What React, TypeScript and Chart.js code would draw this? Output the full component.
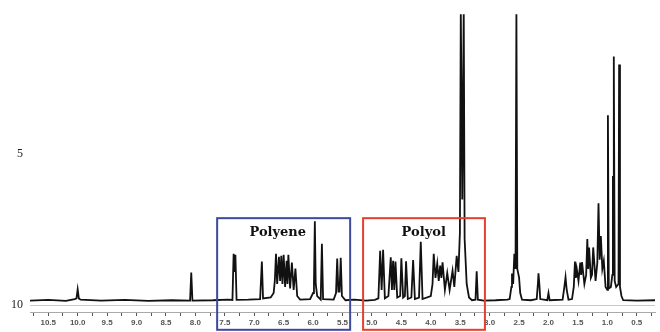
import React, { useEffect, useRef } from 'react';
import { Chart, registerables } from 'chart.js';

Chart.register(...registerables);

// Axis ranges (chemical shift ppm, reversed; intensity axis reversed)
const X_MIN = 0.19;
const X_MAX = 10.81;
const Y_TOP = 0.36;
const Y_BOTTOM = 10.23;

const xMajorTicks = [10.5, 10.0, 9.5, 9.0, 8.5, 8.0, 7.5, 7.0, 6.5, 6.0, 5.5, 5.0, 4.5, 4.0, 3.5, 3.0, 2.5, 2.0, 1.5, 1.0, 0.5];
const xMinorTicks = [10.75, 10.25, 9.75, 9.25, 8.75, 8.25, 7.75, 7.25, 6.75, 6.25, 5.75, 5.25, 4.75, 4.25, 3.75, 3.25, 2.75, 2.25, 1.75, 1.25, 0.75, 0.25];
const yTicks = [5, 10];

// Spectrum segments: [ppm, intensity-axis value]
const lowField: [number, number][] = [
  [10.81, 9.85], [10.5, 9.83], [10.2, 9.86], [10.05, 9.8], [10.02, 9.78], [10.0, 9.48], [9.98, 9.78],
  [9.95, 9.82], [9.6, 9.85], [9.2, 9.83], [8.8, 9.86], [8.4, 9.84], [8.09, 9.85], [8.07, 8.92],
  [8.05, 9.85], [7.7, 9.84], [7.45, 9.82],
];

const polyene: [number, number][] = [
  [7.37, 9.83], [7.35, 8.3], [7.335, 8.9], [7.32, 8.33], [7.3, 9.83], [7.1, 9.82], [6.9, 9.8],
  [6.87, 8.56], [6.85, 9.78], [6.72, 9.75], [6.67, 9.6], [6.65, 9.2], [6.63, 8.3], [6.61, 9.3],
  [6.58, 8.4], [6.56, 9.2], [6.54, 8.37], [6.52, 9.3], [6.5, 8.33], [6.475, 9.4], [6.45, 8.53],
  [6.435, 9.3], [6.42, 8.33], [6.39, 9.45], [6.36, 8.59], [6.33, 9.5], [6.3, 8.79], [6.27, 9.7],
  [6.22, 9.82], [6.05, 9.8], [6.0, 9.6], [5.985, 9.3], [5.97, 7.22], [5.955, 9.3], [5.93, 9.7],
  [5.87, 9.82], [5.85, 7.97], [5.83, 9.8], [5.65, 9.82], [5.61, 9.6], [5.59, 8.46], [5.57, 9.55],
  [5.55, 9.55], [5.53, 8.43], [5.51, 9.7], [5.45, 9.84], [5.3, 9.82], [5.1, 9.85], [4.95, 9.83],
];

const polyol: [number, number][] = [
  [4.89, 9.78], [4.86, 8.2], [4.835, 9.5], [4.81, 8.17], [4.78, 9.78], [4.72, 9.7], [4.68, 8.42],
  [4.66, 9.5], [4.64, 8.53], [4.62, 9.5], [4.6, 8.56], [4.57, 9.75], [4.52, 9.7], [4.5, 8.45],
  [4.47, 9.75], [4.44, 9.7], [4.42, 8.55], [4.39, 9.8], [4.33, 9.75], [4.3, 8.51], [4.27, 9.8],
  [4.2, 9.75], [4.17, 7.9], [4.14, 9.8], [4.0, 9.7], [3.97, 9.3], [3.95, 8.3], [3.92, 9.1],
  [3.89, 8.63], [3.865, 9.2], [3.84, 8.69], [3.82, 9.1], [3.8, 8.58], [3.76, 9.5], [3.72, 8.94],
  [3.68, 9.5], [3.63, 8.86], [3.6, 9.4], [3.56, 8.37], [3.53, 8.9], [3.505, 7.6], [3.49, 0.2],
  [3.465, 6.5], [3.44, 0.2], [3.425, 7.8], [3.39, 9.3], [3.35, 9.75], [3.3, 9.84], [3.24, 9.82],
  [3.22, 8.88], [3.2, 9.82], [3.1, 9.85], [2.9, 9.84], [2.7, 9.82],
];

const aliphatic: [number, number][] = [
  [2.66, 9.8], [2.63, 9.4], [2.62, 8.95], [2.6, 9.3], [2.58, 8.3], [2.56, 8.8], [2.545, 0.2],
  [2.53, 8.8], [2.5, 9.08], [2.48, 9.6], [2.45, 9.82], [2.3, 9.84], [2.2, 9.8], [2.18, 9.3],
  [2.17, 8.95], [2.155, 9.3], [2.14, 9.8], [2.02, 9.84], [2.0, 9.6], [1.98, 9.84], [1.76, 9.82],
  [1.73, 9.4], [1.71, 9.08], [1.69, 9.5], [1.66, 9.82], [1.6, 9.8], [1.57, 9.4], [1.55, 8.56],
  [1.535, 9.1], [1.52, 8.79], [1.49, 9.2], [1.46, 8.59], [1.445, 9.0], [1.43, 8.58], [1.39, 9.3],
  [1.36, 9.0], [1.34, 7.81], [1.325, 8.8], [1.31, 8.09], [1.28, 9.1], [1.26, 9.0], [1.24, 8.09],
  [1.2, 9.2], [1.17, 8.6], [1.15, 6.63], [1.13, 8.5], [1.11, 7.71], [1.085, 8.8], [1.06, 8.53],
  [1.03, 9.4], [1.0, 9.5], [0.99, 3.71], [0.975, 9.45], [0.94, 9.4], [0.915, 9.0], [0.905, 5.72],
  [0.9, 9.0], [0.89, 1.76], [0.875, 9.2], [0.85, 9.4], [0.81, 9.3], [0.8, 2.03], [0.785, 9.4],
  [0.76, 9.7], [0.73, 9.84], [0.5, 9.85], [0.19, 9.84],
];

// Highlighted regions
const regionLabels = ['Polyene', 'Polyol'];
const regionColors = ['#3d4a9c', '#e5402d'];
const regionFrom = [7.63, 5.15];
const regionTo = [5.37, 3.08];
const regionTop = [7.12, 7.12];
const regionBottom = [10.82, 10.82];
const regionLabelX = [6.6, 4.12];
const regionLabelY = [7.6, 7.61];

const regionPlugin = {
  id: 'regionBoxes',
  afterDatasetsDraw(chart: any) {
    const { ctx, scales } = chart;
    const x = scales.x;
    const y = scales.y;
    ctx.save();
    for (let i = 0; i < regionLabels.length; i++) {
      const l = x.getPixelForValue(regionFrom[i]);
      const r = x.getPixelForValue(regionTo[i]);
      const t = y.getPixelForValue(regionTop[i]);
      const b = y.getPixelForValue(regionBottom[i]);
      ctx.strokeStyle = regionColors[i];
      ctx.lineWidth = 2;
      ctx.strokeRect(Math.min(l, r), t, Math.abs(r - l), b - t);
      ctx.font = 'bold 13px "DejaVu Serif"';
      ctx.fillStyle = '#111';
      ctx.textAlign = 'center';
      ctx.textBaseline = 'middle';
      ctx.fillText(regionLabels[i], x.getPixelForValue(regionLabelX[i]), y.getPixelForValue(regionLabelY[i]));
    }
    ctx.restore();
  },
};

export default function App() {
  const canvasRef = useRef<HTMLCanvasElement | null>(null);

  useEffect(() => {
    if (!canvasRef.current) return;
    const spectrum = [...lowField, ...polyene, ...polyol, ...aliphatic].map(([px, py]) => ({ x: px, y: py }));
    const chart = new Chart(canvasRef.current, {
      type: 'line',
      data: {
        datasets: [
          {
            data: spectrum,
            borderColor: '#111',
            borderWidth: 1.8,
            pointRadius: 0,
            tension: 0,
            fill: false,
          },
        ],
      },
      options: {
        animation: false,
        responsive: false,
        maintainAspectRatio: false,
        layout: { padding: { top: 10, right: 5, left: 0, bottom: 0 } },
        plugins: { legend: { display: false }, tooltip: { enabled: false } },
        scales: {
          x: {
            type: 'linear',
            reverse: true,
            min: X_MIN,
            max: X_MAX,
            afterBuildTicks: (scale: any) => {
              const all = [...xMajorTicks, ...xMinorTicks].sort((a, b) => a - b);
              scale.ticks = all.map((v) => ({ value: v }));
            },
            afterFit: (scale: any) => {
              scale.height = 20;
            },
            ticks: {
              autoSkip: false,
              maxRotation: 0,
              padding: 2,
              color: '#555',
              font: { family: '"Liberation Sans"', size: 8, weight: 'bold' },
              callback: (v: any) => (xMajorTicks.includes(Number(v)) ? Number(v).toFixed(1) : ''),
            },
            grid: {
              drawOnChartArea: false,
              drawTicks: true,
              tickLength: 4,
              color: '#555',
            },
            border: { display: true, color: '#aaa', width: 1 },
          },
          y: {
            type: 'linear',
            reverse: true,
            min: Y_TOP,
            max: Y_BOTTOM,
            afterBuildTicks: (scale: any) => {
              scale.ticks = yTicks.map((v) => ({ value: v }));
            },
            afterFit: (scale: any) => {
              scale.width = 30;
            },
            ticks: {
              padding: 7,
              color: '#222',
              font: { family: '"Liberation Serif"', size: 12 },
              callback: (v: any) => String(v),
            },
            grid: {
              drawTicks: false,
              color: (c: any) => (c.tick && c.tick.value === 10 ? '#c8c8c8' : 'rgba(0,0,0,0)'),
            },
            border: { display: false },
          },
        },
      },
      plugins: [regionPlugin],
    });
    return () => chart.destroy();
  }, []);

  return (
    <div style={{ position: 'fixed', left: 0, top: 0, width: 660, height: 332, background: '#fff' }}>
      <canvas ref={canvasRef} width={660} height={332} style={{ width: 660, height: 332, display: 'block' }} />
    </div>
  );
}
